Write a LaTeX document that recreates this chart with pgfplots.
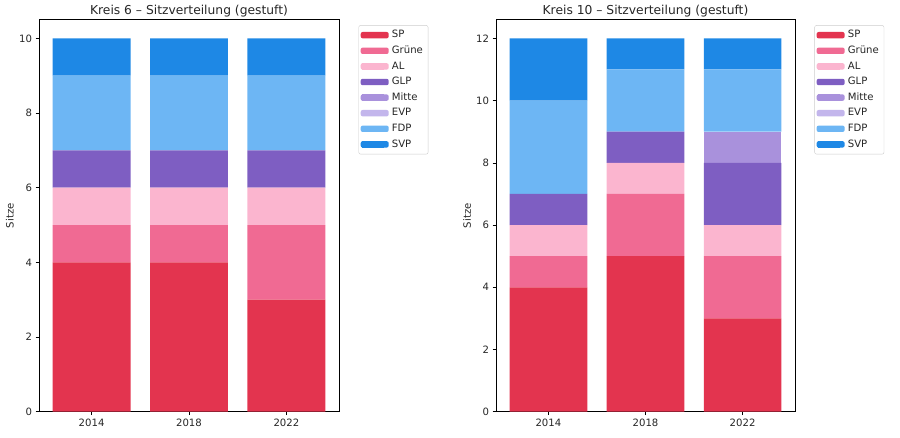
\documentclass[border=0pt]{standalone}
\usepackage{pgfplots}
\usepackage{pgfplotstable}
\pgfplotsset{compat=1.18}
\usepackage{fontspec}
\setmainfont{DejaVu Sans}

\definecolor{cSP}{HTML}{E3344F}
\definecolor{cGruene}{HTML}{F06A93}
\definecolor{cAL}{HTML}{FBB5CF}
\definecolor{cGLP}{HTML}{7E5EC2}
\definecolor{cMitte}{HTML}{A991DC}
\definecolor{cEVP}{HTML}{C3B6EC}
\definecolor{cFDP}{HTML}{6DB6F4}
\definecolor{cSVP}{HTML}{1E88E5}

% Sitze je Partei, x = 0,1,2 fuer 2014, 2018, 2022
\pgfplotstableread{
x SP Gruene AL GLP Mitte EVP FDP SVP
0 4 1 1 1 0 0 2 1
1 4 1 1 1 0 0 2 1
2 3 2 1 1 0 0 2 1
}\kreisSechs

\pgfplotstableread{
x SP Gruene AL GLP Mitte EVP FDP SVP
0 4 1 1 1 0 0 3 2
1 5 2 1 1 0 0 2 1
2 3 2 1 2 1 0 2 1
}\kreisZehn

\pgfplotsset{
  kreis/.style={
    scale only axis, width=300pt, height=392pt,
    ybar stacked, bar width=0.8,
    xmin=-0.54, xmax=2.54, ymin=0,
    xtick={0,1,2}, xticklabels={2014,2018,2022},
    tick pos=left, tick align=outside, major tick length=3.5pt,
    tick style={black, line width=0.6pt},
    axis line style={line width=0.6pt},
    tick label style={font=\fontsize{10.1}{12}\selectfont, text=black!85},
    /pgf/number format/assume math mode=true,
    ylabel={Sitze},
    every axis y label/.style={at={(axis description cs:-0.097,0.5)}, rotate=90, anchor=center,
      font=\fontsize{10.1}{12}\selectfont, text=black!85},
    title style={at={(0.5,1)}, anchor=base, yshift=-1pt, font=\fontsize{12.3}{14}\selectfont, text=black!85},
    legend cell align=left,
    legend image code/.code={%
      \path (0pt,-3.2pt) rectangle (28pt,3.2pt);
      \fill[##1, sharp corners] (1.7pt,-3.2pt) rectangle (23.2pt,3.2pt);},
    legend style={at={(1.065,0.986)}, anchor=north west, draw=black!20, rounded corners=2pt,
      fill=white, font=\fontsize{10.1}{12}\selectfont, text=black!85,
      inner xsep=2pt, inner ysep=2pt, row sep=0pt,
      nodes={inner sep=3.2pt, text height=7.4pt, text depth=1.8pt}},
    every axis plot/.append style={draw=none},
  },
}

\begin{document}
\begin{tikzpicture}
\useasboundingbox (0,0) rectangle (900pt,437pt);

\begin{axis}[kreis, at={(39pt,25.3pt)}, anchor=south west,
    ymax=10.5, ytick={0,2,...,10},
    title={Kreis 6 – Sitzverteilung (gestuft)}]
\addplot[fill=cSP] table[x=x,y=SP] {\kreisSechs};
\addlegendentry{SP}
\addplot[fill=cGruene] table[x=x,y=Gruene] {\kreisSechs};
\addlegendentry{Grüne}
\addplot[fill=cAL] table[x=x,y=AL] {\kreisSechs};
\addlegendentry{AL}
\addplot[fill=cGLP] table[x=x,y=GLP] {\kreisSechs};
\addlegendentry{GLP}
\addplot[fill=cMitte] table[x=x,y=Mitte] {\kreisSechs};
\addlegendentry{Mitte}
\addplot[fill=cEVP] table[x=x,y=EVP] {\kreisSechs};
\addlegendentry{EVP}
\addplot[fill=cFDP] table[x=x,y=FDP] {\kreisSechs};
\addlegendentry{FDP}
\addplot[fill=cSVP] table[x=x,y=SVP] {\kreisSechs};
\addlegendentry{SVP}
\end{axis}

\begin{axis}[kreis, at={(496pt,25.3pt)}, anchor=south west, width=299pt,
    ymax=12.6, ytick={0,2,...,12},
    title={Kreis 10 – Sitzverteilung (gestuft)}]
\addplot[fill=cSP] table[x=x,y=SP] {\kreisZehn};
\addlegendentry{SP}
\addplot[fill=cGruene] table[x=x,y=Gruene] {\kreisZehn};
\addlegendentry{Grüne}
\addplot[fill=cAL] table[x=x,y=AL] {\kreisZehn};
\addlegendentry{AL}
\addplot[fill=cGLP] table[x=x,y=GLP] {\kreisZehn};
\addlegendentry{GLP}
\addplot[fill=cMitte] table[x=x,y=Mitte] {\kreisZehn};
\addlegendentry{Mitte}
\addplot[fill=cEVP] table[x=x,y=EVP] {\kreisZehn};
\addlegendentry{EVP}
\addplot[fill=cFDP] table[x=x,y=FDP] {\kreisZehn};
\addlegendentry{FDP}
\addplot[fill=cSVP] table[x=x,y=SVP] {\kreisZehn};
\addlegendentry{SVP}
\end{axis}
\end{tikzpicture}
\end{document}
